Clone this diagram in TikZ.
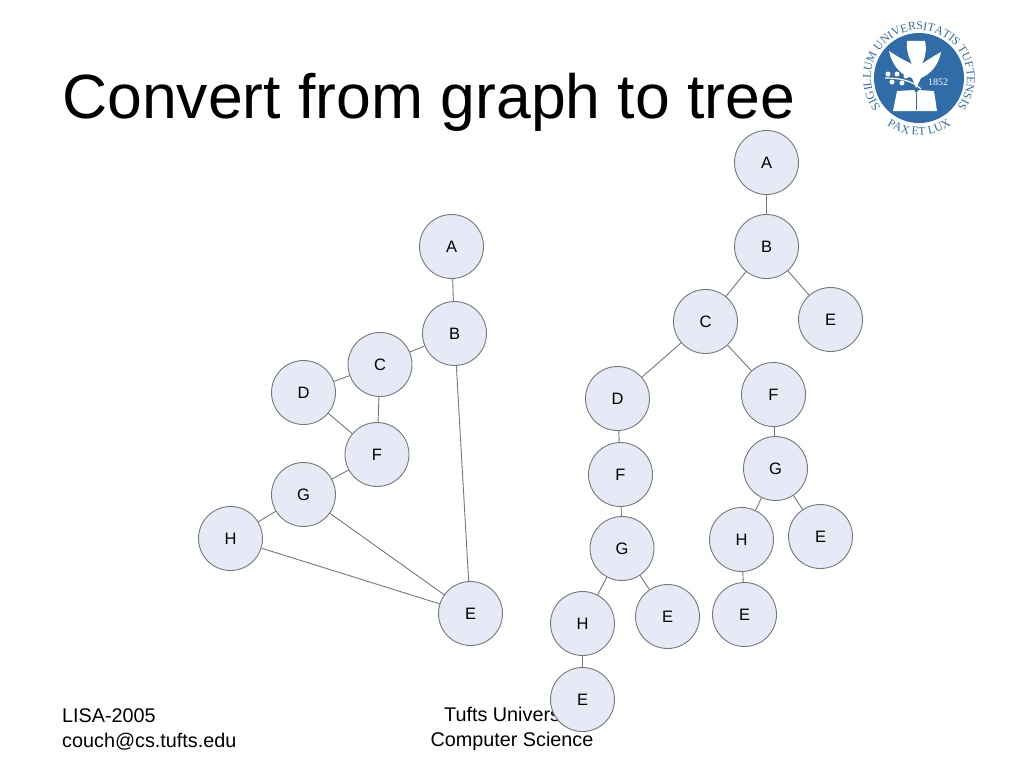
\documentclass[tikz,border=0pt]{standalone}
\usepackage{fontspec}
\setmainfont{Liberation Serif}
\newfontfamily\slidefont{Liberation Sans}
\usetikzlibrary{decorations.text}
\definecolor{nodefill}{HTML}{E6EAF6}
\definecolor{nodeline}{HTML}{777777}
\definecolor{sealblue}{HTML}{2F6CA8}
\tikzset{
  vertex/.style = {circle, draw = nodeline, fill = nodefill, line width = 0.9pt, minimum size = 64pt, inner sep = 0pt, font = \slidefont\fontsize{16.5}{18}\selectfont},
  link/.style = {draw = nodeline, line width = 0.9pt},
  footer/.style = {font = \slidefont\fontsize{19.8}{25}\selectfont, inner sep = 0pt},
  sealtext/.style = {decorate, decoration = {text along path, text align = center, text = {|\rmfamily\fontsize{11.8}{11.8}\selectfont\color{sealblue}|#1}}}
}
\begin{document}
\begin{tikzpicture}[x = 1pt, y = -1pt]
    \useasboundingbox (0, 0) rectangle (1024, 768);

    \node[anchor = west, inner sep = 0pt, font = \slidefont\fontsize{62.5}{62.5}\selectfont] (title) at (62, 102) {Convert from graph to tree};
    \node[footer, anchor = west, align = left] (foot1) at (62, 729) {LISA-2005\\couch@cs.tufts.edu};
    \node[footer, anchor = center, align = center] (foot2) at (512, 729) {Tufts University\\Computer Science};

    % seal
    \fill[sealblue] (919, 78) circle (45);
    \path[sealtext = {SIGILLUM UNIVERSITATIS TUFTENSIS}] (919, 78) ++ (130:48) arc[start angle = 130, end angle = 410, radius = 48];
    \path[sealtext = {PAX ET LUX}] (919, 78) ++ (125:57) arc[start angle = 125, end angle = 55, radius = 57];
    % dove
    \fill[white] (912, 64) .. controls (903, 60) and (895, 55) .. (889, 51) .. controls (892, 66) and (902, 76) .. (912, 78)
        -- (916, 88) -- (921, 78) .. controls (931, 74) and (939, 64) .. (941, 52) .. controls (934, 56) and (927, 60) .. (922, 64)
        .. controls (927, 54) and (926, 46) .. (925, 41) -- (907, 41) .. controls (906, 48) and (908, 56) .. (912, 64);
    \draw[white, line width = 1.2pt] (885, 78) .. controls (898, 78) and (912, 80) .. (921, 89);
    \fill[white] (888, 74) circle (2.5) (897, 74) circle (2.5) (906, 76) circle (2.5) (892, 82) circle (2.5) (902, 83) circle (2.5);
    \node[text = white, inner sep = 0pt, font = \rmfamily\fontsize{10}{10}\selectfont] (year) at (938, 82) {1852};
    % book
    \fill[white] (897, 91) -- (914, 90) -- (916, 93) -- (919, 90) -- (934, 91) -- (937, 111) -- (916, 111) -- (893, 111) -- cycle;
    \draw[sealblue, line width = 0.6pt] (916, 93) -- (916, 110);

    % graph
    \node[vertex] (gA) at (451.5, 246.5) {A};
    \node[vertex] (gB) at (454.5, 333.5) {B};
    \node[vertex] (gC) at (380, 364.5) {C};
    \node[vertex] (gD) at (303.5, 392.5) {D};
    \node[vertex] (gF) at (377, 454.5) {F};
    \node[vertex] (gG) at (303.5, 494.5) {G};
    \node[vertex] (gH) at (230.5, 538.5) {H};
    \node[vertex] (gE) at (470.5, 613.5) {E};

    \draw[link] (gA) -- (gB);
    \draw[link] (gB) -- (gC);
    \draw[link] (gB) -- (gE);
    \draw[link] (gC) -- (gD);
    \draw[link] (gC) -- (gF);
    \draw[link] (gD) -- (gF);
    \draw[link] (gF) -- (gG);
    \draw[link] (gG) -- (gH);
    \draw[link] (gG) -- (gE);
    \draw[link] (gH) -- (gE);

    % tree
    \node[vertex] (tA) at (766.5, 162.5) {A};
    \node[vertex] (tB) at (766.5, 246.5) {B};
    \node[vertex] (tC) at (705.5, 321.5) {C};
    \node[vertex] (tE1) at (830.5, 319.5) {E};
    \node[vertex] (tD) at (617.5, 398.5) {D};
    \node[vertex] (tF1) at (773.5, 394.5) {F};
    \node[vertex] (tF2) at (620.5, 474.5) {F};
    \node[vertex] (tG1) at (775.5, 468.5) {G};
    \node[vertex] (tG2) at (622, 548.5) {G};
    \node[vertex] (tH1) at (741.5, 539.5) {H};
    \node[vertex] (tE2) at (820.5, 536.5) {E};
    \node[vertex] (tH2) at (582.5, 623.5) {H};
    \node[vertex] (tE3) at (667.5, 616.5) {E};
    \node[vertex] (tE4) at (744.5, 614.5) {E};
    \node[vertex] (tE5) at (582.5, 699.5) {E};

    \draw[link] (tA) -- (tB);
    \draw[link] (tB) -- (tC);
    \draw[link] (tB) -- (tE1);
    \draw[link] (tC) -- (tD);
    \draw[link] (tC) -- (tF1);
    \draw[link] (tD) -- (tF2);
    \draw[link] (tF2) -- (tG2);
    \draw[link] (tG2) -- (tH2);
    \draw[link] (tG2) -- (tE3);
    \draw[link] (tH2) -- (tE5);
    \draw[link] (tF1) -- (tG1);
    \draw[link] (tG1) -- (tH1);
    \draw[link] (tG1) -- (tE2);
    \draw[link] (tH1) -- (tE4);
\end{tikzpicture}
\end{document}
